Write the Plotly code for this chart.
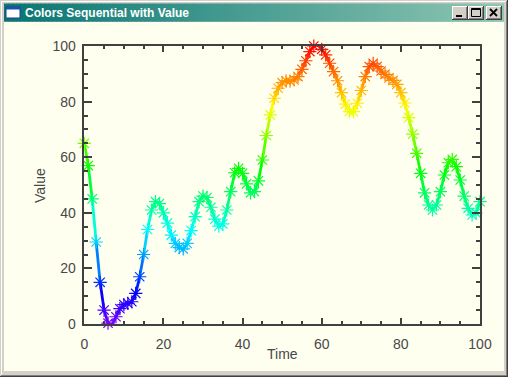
import colorsys
import plotly.graph_objects as go

# ---- data ----
time = list(range(0, 101))
value = [65, 57, 45, 29.5, 15, 5, 0.3, -0.3, 2.6, 5.5,
         7, 7.4, 8, 11, 17, 25, 34, 41, 44, 43.3,
         40, 36.3, 32, 29, 27.5, 27, 29, 33.6, 38.6, 44,
         46, 45.5, 42, 37.7, 35.2, 36, 41, 47.6, 54.4, 56,
         54.2, 50.4, 47.2, 47.6, 51.5, 59, 67.8, 75.2, 81.2, 84.8,
         86.8, 87.5, 87.4, 87.8, 89, 91.6, 94.7, 98, 100, 100.4,
         98.8, 96.8, 93.8, 90.8, 87.5, 83.2, 79.1, 76.4, 76.4, 79.4,
         84, 89, 92.6, 93.8, 92.6, 91, 89.8, 88.5, 87.6, 86.2,
         83.2, 79.5, 74.2, 68.3, 61.4, 54.2, 47.2, 42.8, 41, 42.8,
         47.6, 53.6, 58, 59.2, 56.6, 51.8, 46, 41.6, 39.2, 40,
         44]
x_ticks = [0, 20, 40, 60, 80, 100]
y_ticks = [0, 20, 40, 60, 80, 100]
window_title = "Colors Sequential with Value"
x_title = "Time"
y_title = "Value"

W, H = 508, 377


def vcolor(v):
    v = max(0.0, min(100.0, v))
    h = 270.0 * (1 - v / 100.0) / 360.0
    r, g, b = colorsys.hsv_to_rgb(h, 1, 1)
    return "#%02x%02x%02x" % (round(r * 255), round(g * 255), round(b * 255))


def px(x):
    return x / W


def py(y):
    return 1 - y / H


fig = go.Figure()

# coloured line segments
for i in range(len(time) - 1):
    c = vcolor((value[i] + value[i + 1]) / 2)
    fig.add_trace(go.Scatter(x=time[i:i + 2], y=value[i:i + 2], mode="lines",
                             line=dict(color=c, width=2.8), hoverinfo="skip",
                             showlegend=False, cliponaxis=False))

cols = [vcolor(v) for v in value]
fig.add_trace(go.Scatter(x=time, y=value, mode="markers", showlegend=False,
                         cliponaxis=False,
                         marker=dict(symbol="asterisk-open", size=11, color=cols,
                                     line=dict(color=cols, width=1.2))))

shapes = []


def rect(x0, y0, x1, y1, fill, line=None, lw=0):
    shapes.append(dict(type="rect", xref="paper", yref="paper", layer="below",
                       x0=px(x0), x1=px(x1), y0=py(y1), y1=py(y0),
                       fillcolor=fill, line=dict(width=lw, color=line or fill)))


def seg(x0, y0, x1, y1, color, w=1, layer="above"):
    shapes.append(dict(type="line", xref="paper", yref="paper", layer=layer,
                       x0=px(x0), x1=px(x1), y0=py(y0), y1=py(y1),
                       line=dict(color=color, width=w)))


# window frame
rect(0, 0, W, H, "#d4d0c8")
seg(0.5, 0.5, W, 0.5, "#d4d0c8", 1, "below")
seg(1.5, 1.5, W - 1, 1.5, "#ffffff", 1, "below")
seg(1.5, 1.5, 1.5, H - 1, "#ffffff", 1, "below")
seg(0, H - 0.5, W, H - 0.5, "#404040", 1, "below")
seg(W - 0.5, 0, W - 0.5, H, "#404040", 1, "below")
seg(1, H - 1.5, W - 1, H - 1.5, "#808080", 1, "below")
seg(W - 1.5, 1, W - 1.5, H - 1, "#808080", 1, "below")
# client area
rect(4, 22, 504, 371, "#fffff0")

# title bar gradient
c0 = (0x08, 0x76, 0x74)
c1 = (0x8e, 0xc6, 0xb2)
n = 125
x_start, x_end = 4, 504
for k in range(n):
    t = k / (n - 1)
    c = tuple(round(c0[j] + (c1[j] - c0[j]) * t) for j in range(3))
    xa = x_start + (x_end - x_start) * k / n
    xb = x_start + (x_end - x_start) * (k + 1) / n + 0.6
    rect(xa, 3.5, min(xb, x_end), 21.7, "#%02x%02x%02x" % c)

# title icon
rect(6, 7, 20, 18, "#ffffff", "#1c3c8c", 1)
rect(6, 7, 20, 9.5, "#1c50b4")

# caption buttons
for (bx0, bx1) in [(452, 468), (468, 484), (486, 502)]:
    rect(bx0, 6, bx1, 20, "#d4d0c8")
    seg(bx0, 6.5, bx1, 6.5, "#ffffff")
    seg(bx0 + 0.5, 6, bx0 + 0.5, 20, "#ffffff")
    seg(bx0, 19.5, bx1, 19.5, "#404040")
    seg(bx1 - 0.5, 6, bx1 - 0.5, 20, "#404040")
    seg(bx0 + 1, 18.5, bx1 - 1, 18.5, "#808080")
    seg(bx1 - 1.5, 7, bx1 - 1.5, 19, "#808080")
# minimize glyph
rect(456, 15, 462, 17, "#000000")
shapes[-1]["layer"] = "above"
# maximize glyph
rect(471.5, 8.5, 480.5, 16.5, "rgba(0,0,0,0)", "#000000", 1)
shapes[-1]["layer"] = "above"
seg(471.5, 9.5, 480.5, 9.5, "#000000", 1)
# close glyph
seg(490, 9, 497, 16, "#000000", 1.8)
seg(497, 9, 490, 16, "#000000", 1.8)

axis_color = "#404040"
tick_font = dict(family="Liberation Sans", size=14, color="#484848")

fig.update_layout(
    width=W, height=H, autosize=False,
    margin=dict(l=0, r=0, t=0, b=0, pad=0, autoexpand=False),
    paper_bgcolor="#fffff0", plot_bgcolor="rgba(0,0,0,0)",
    shapes=shapes,
    xaxis=dict(domain=[px(84.3), px(480)], range=[0, 100], tickvals=x_ticks,
               ticktext=[str(v) for v in x_ticks], automargin=False,
               ticks="inside", ticklen=6.5, tickwidth=1.5, tickcolor=axis_color,
               minor=dict(ticks="inside", ticklen=3.3, dtick=5, tickwidth=1.5,
                          tickcolor=axis_color, showgrid=False),
               showline=True, linecolor=axis_color, linewidth=1.5, mirror="ticks",
               showgrid=False, zeroline=False, tickfont=tick_font,
               ticklabelstandoff=6),
    yaxis=dict(domain=[py(324), py(46)], range=[0, 100], tickvals=y_ticks,
               ticktext=[str(v) for v in y_ticks], automargin=False,
               ticks="inside", ticklen=8, tickwidth=1.5, tickcolor=axis_color,
               minor=dict(ticks="inside", ticklen=4, dtick=5, tickwidth=1.5,
                          tickcolor=axis_color, showgrid=False),
               showline=True, linecolor=axis_color, linewidth=1.5, mirror="ticks",
               showgrid=False, zeroline=False, tickfont=tick_font,
               ticklabelstandoff=4),
    annotations=[
        dict(text=window_title, xref="paper", yref="paper", x=px(23), y=py(12.8),
             xanchor="left", yanchor="middle", showarrow=False,
             font=dict(family="Liberation Sans", size=12, color="#ffffff",
                       weight="bold")),
        dict(text=x_title, xref="paper", yref="paper", x=px(282), y=py(354),
             xanchor="center", yanchor="middle", showarrow=False,
             font=dict(family="Liberation Sans", size=14, color="#484848")),
        dict(text=y_title, xref="paper", yref="paper", x=px(40), y=py(186),
             xanchor="center", yanchor="middle", showarrow=False, textangle=-90,
             font=dict(family="Liberation Sans", size=14, color="#484848")),
    ],
)

post = ("var d=document.getElementById('{plot_id}');"
        "d.style.position='fixed';d.style.left='0px';d.style.top='0px';"
        "document.body.style.margin='0';"
        "document.documentElement.style.overflow='hidden';"
        "document.body.style.overflow='hidden';")
fig.write_html("out.html", config={"displayModeBar": False}, post_script=post)
